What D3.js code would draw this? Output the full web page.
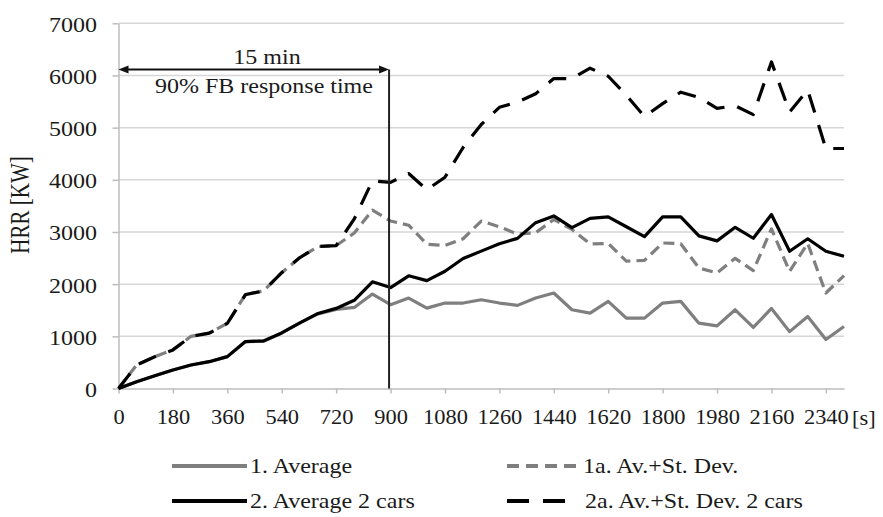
<!DOCTYPE html>
<html><head><meta charset="utf-8">
<script src="https://cdn.jsdelivr.net/npm/d3@7"></script>
<style>
body{margin:0;background:#fff}
svg{display:block}
text{font-family:"Liberation Serif","Times New Roman",serif;fill:#1a1a1a}
</style>
</head><body>
<svg id="c" width="883" height="517"></svg>
<script>
// ---- data (time in s, HRR in kW) ----
const times = [0,60,120,180,240,300,360,420,480,540,600,660,720,780,840,900,960,1020,1080,1140,1200,1260,1320,1380,1440,1500,1560,1620,1680,1740,1800,1860,1920,1980,2040,2100,2160,2220,2280,2340,2400];
const average = [0,129,244,354,450,514,611,900,905,1065,1258,1430,1516,1554,1811,1606,1734,1541,1638,1638,1702,1638,1593,1734,1830,1509,1445,1670,1349,1349,1638,1670,1252,1200,1509,1170,1535,1090,1380,940,1188];
const avgPlusSd = [0,450,610,740,1000,1060,1250,1800,1870,2220,2510,2720,2740,2980,3420,3210,3130,2765,2740,2870,3210,3100,2960,2985,3240,3050,2770,2780,2440,2455,2790,2775,2310,2215,2495,2260,3060,2245,2780,1830,2165];
const average2cars = [0,129,244,354,450,514,611,900,913,1065,1258,1439,1535,1690,2045,1935,2160,2068,2248,2492,2633,2775,2877,3179,3308,3083,3260,3290,3100,2910,3290,3290,2925,2830,3090,2880,3335,2630,2870,2630,2535];
const avgPlusSd2cars = [0,450,610,740,1000,1060,1250,1800,1870,2220,2510,2720,2740,3250,3980,3950,4120,3810,4050,4620,5060,5390,5490,5650,5940,5940,6140,5985,5620,5213,5460,5680,5580,5370,5420,5250,6260,5300,5720,4600,4600];
const xTickLabels = [0,180,360,540,720,900,1080,1260,1440,1620,1800,1980,2160,2340];
const yTicks = [0,1000,2000,3000,4000,5000,6000,7000];
const seriesNames = ["1. Average","1a. Av.+St. Dev.","2. Average 2 cars","2a. Av.+St. Dev. 2 cars"];
const responseTime = 900;
const annotTop = "15 min", annotBottom = "90% FB response time";

// ---- layout ----
const SX = 1.2, SXX = 1.12, FS = 20;
const x = d3.scaleLinear().domain([0,2400]).range([118.5,844]);
const y = d3.scaleLinear().domain([0,7000]).range([388.5,23.3]);
const svg = d3.select('#c');

// gridlines
svg.append('g').selectAll('line').data(yTicks.filter(d=>d>0)).join('line')
  .attr('x1',x(0)).attr('x2',x(2400)).attr('y1',d=>y(d)).attr('y2',d=>y(d))
  .attr('stroke','#d6d6d6').attr('stroke-width',1.5);

// y axis
const ya = svg.append('g').attr('transform',`translate(${x(0)},0)`)
  .call(d3.axisLeft(y).tickValues(yTicks).tickSize(6).tickSizeOuter(0).tickFormat(d3.format('d')));
ya.select('.domain').attr('stroke','#bdbdbd').attr('stroke-width',1.5);
ya.selectAll('.tick line').attr('stroke','#bdbdbd').attr('stroke-width',1.5);
ya.selectAll('.tick text').attr('font-size',FS).attr('font-family','Liberation Serif')
  .attr('fill','#1a1a1a').attr('x',-21.5/SX).attr('dy','0.4em').attr('transform',`scale(${SX},1)`);

// x axis
const xa = svg.append('g').attr('transform',`translate(0,${y(0)})`)
  .call(d3.axisBottom(x).tickValues(xTickLabels).tickSize(5).tickSizeOuter(0).tickFormat(d3.format('d')));
xa.select('.domain').attr('stroke','#bdbdbd').attr('stroke-width',1.5);
xa.selectAll('.tick line').attr('stroke','#bdbdbd').attr('stroke-width',1.5);
xa.selectAll('.tick text').attr('font-size',FS).attr('font-family','Liberation Serif')
  .attr('fill','#1a1a1a').attr('y',21).attr('transform',`scale(${SXX},1)`);

function stext(xx,yy,s,anchor,sx){
  return svg.append('text').attr('transform',`translate(${xx},${yy}) scale(${sx||SX},1)`)
    .attr('text-anchor',anchor).attr('font-size',FS).text(s);
}
stext(852,424.5,'[s]','start',SXX);

// y title
svg.append('text').attr('transform','translate(29,205) rotate(-90) scale(1,1.25)')
  .attr('text-anchor','middle').attr('font-size',21).text('HRR [KW]');

// series
const line = d3.line().x((d,i)=>x(times[i])).y(d=>y(d));
const styles = [
  {data:average, color:'#7f7f7f', dash:null},
  {data:avgPlusSd, color:'#7f7f7f', dash:'11,6'},
  {data:average2cars, color:'#000', dash:null},
  {data:avgPlusSd2cars, color:'#000', dash:'19,13'}
];
styles.forEach(s=>{
  svg.append('path').attr('d',line(s.data)).attr('fill','none')
    .attr('stroke',s.color).attr('stroke-width',3.2).attr('stroke-linejoin','round')
    .attr('stroke-dasharray',s.dash);
});

// annotation: vertical line + double arrow
const ay = 69.5;
svg.append('line').attr('x1',x(responseTime)-1.5).attr('x2',x(responseTime)-1.5).attr('y1',ay).attr('y2',y(0))
  .attr('stroke','#222').attr('stroke-width',2);
svg.append('line').attr('x1',x(0)+6).attr('x2',x(responseTime)-7).attr('y1',ay).attr('y2',ay)
  .attr('stroke','#111').attr('stroke-width',2);
const xl = x(0), xr = x(responseTime)-1.5;
svg.append('path').attr('d',`M${xl},${ay} L${xl+10},${ay-4} L${xl+10},${ay+4} Z`).attr('fill','#111');
svg.append('path').attr('d',`M${xr},${ay} L${xr-10},${ay-4} L${xr-10},${ay+4} Z`).attr('fill','#111');
stext(267,64,annotTop,'middle');
stext(264,93,annotBottom,'middle');

// legend
const leg = [
  {lx:172, ly:466, tx:250, st:styles[0], len:75},
  {lx:507, ly:466, tx:583, st:styles[1], len:73},
  {lx:172, ly:501, tx:250, st:styles[2], len:75},
  {lx:507, ly:501, tx:585, st:styles[3], len:58}
];
leg.forEach((l,i)=>{
  svg.append('line').attr('x1',l.lx).attr('x2',l.lx+l.len).attr('y1',l.ly).attr('y2',l.ly)
    .attr('stroke',l.st.color).attr('stroke-width',4)
    .attr('stroke-dasharray', i===1?'12,7':(i===3?'22,14':null));
  stext(l.tx,l.ly+6.5,seriesNames[i],'start');
});
</script>
</body></html>
